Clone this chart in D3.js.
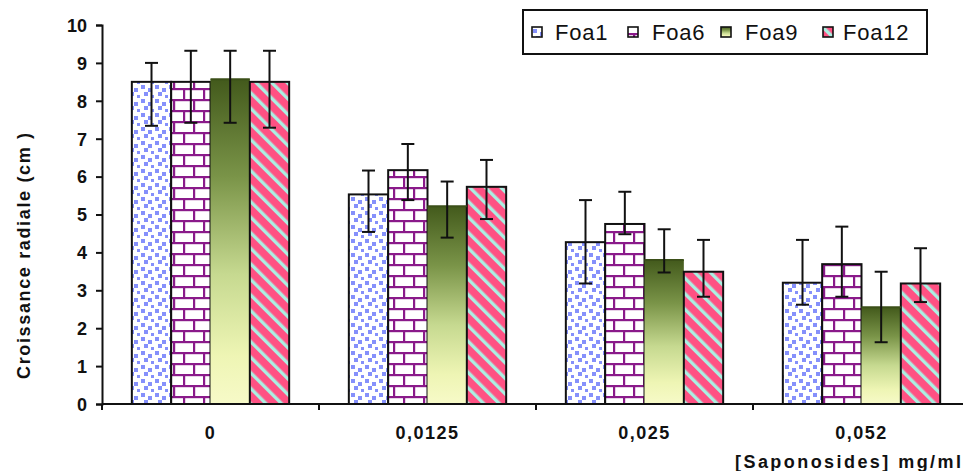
<!DOCTYPE html>
<html>
<head>
<meta charset="utf-8">
<script src="https://cdn.jsdelivr.net/npm/d3@7"></script>
<style>
  html, body { margin: 0; padding: 0; background: #fff; }
  svg { display: block; }
  .num { font-family: "Liberation Sans Narrow", "Arial Narrow", "Liberation Sans", Arial, sans-serif; font-weight: bold; fill: #111; }
</style>
</head>
<body>
<svg id="chart" width="965" height="471"></svg>
<script>
// Radial growth (cm) of four Foa isolates under increasing saponoside doses
const categories = ["0", "0,0125", "0,025", "0,052"];
const seriesNames = ["Foa1", "Foa6", "Foa9", "Foa12"];
const foa1  = [8.5, 5.53, 4.27, 3.2];
const foa6  = [8.5, 6.17, 4.75, 3.69];
const foa9  = [8.57, 5.22, 3.8, 2.55];
const foa12 = [8.5, 5.73, 3.49, 3.18];
// error bar ends (low / high)
const foa1Low  = [7.34, 4.54, 3.18, 2.62];
const foa1High = [9.0, 6.16, 5.38, 4.33];
const foa6Low  = [7.42, 5.38, 4.48, 2.83];
const foa6High = [9.32, 6.86, 5.6, 4.68];
const foa9Low  = [7.42, 4.39, 3.47, 1.63];
const foa9High = [9.32, 5.87, 4.61, 3.49];
const foa12Low  = [7.29, 4.88, 2.83, 2.69];
const foa12High = [9.32, 6.44, 4.33, 4.11];
const yTicks = [0, 1, 2, 3, 4, 5, 6, 7, 8, 9, 10];

const series = [
  { name: "Foa1",  values: foa1,  low: foa1Low,  high: foa1High,  fill: "url(#pFoa1)",  stroke: "#111" },
  { name: "Foa6",  values: foa6,  low: foa6Low,  high: foa6High,  fill: "url(#pFoa6)",  stroke: "#111" },
  { name: "Foa9",  values: foa9,  low: foa9Low,  high: foa9High,  fill: "url(#gFoa9)",  stroke: "none" },
  { name: "Foa12", values: foa12, low: foa12Low, high: foa12High, fill: "url(#pFoa12)", stroke: "#111" }
];

const svg = d3.select("#chart");
const defs = svg.append("defs");

// dotted fill
const p1 = defs.append("pattern").attr("id", "pFoa1").attr("patternUnits", "userSpaceOnUse")
  .attr("width", 14).attr("height", 14);
p1.append("rect").attr("width", 14).attr("height", 14).attr("fill", "#fff");
[[1, 1], [8, 4], [4, 8], [11, 11]].forEach(([x, y]) =>
  p1.append("rect").attr("x", x).attr("y", y).attr("width", 4).attr("height", 4).attr("fill", "#8590fb"));

// brick fill
const p6 = defs.append("pattern").attr("id", "pFoa6").attr("patternUnits", "userSpaceOnUse")
  .attr("width", 20).attr("height", 22);
p6.append("rect").attr("width", 20).attr("height", 22).attr("fill", "#fff");
const brick = "#8a1a8a";
p6.append("rect").attr("x", 0).attr("y", 0).attr("width", 20).attr("height", 2.2).attr("fill", brick);
p6.append("rect").attr("x", 0).attr("y", 11).attr("width", 20).attr("height", 2.2).attr("fill", brick);
p6.append("rect").attr("x", 3).attr("y", 0).attr("width", 2.2).attr("height", 11).attr("fill", brick);
p6.append("rect").attr("x", 13).attr("y", 11).attr("width", 2.2).attr("height", 11).attr("fill", brick);

// diagonal stripes
const p12 = defs.append("pattern").attr("id", "pFoa12").attr("patternUnits", "userSpaceOnUse")
  .attr("width", 11).attr("height", 11).attr("patternTransform", "rotate(-45)");
p12.append("rect").attr("width", 11).attr("height", 11).attr("fill", "#ff5183");
p12.append("rect").attr("x", 0).attr("width", 3.4).attr("height", 11).attr("fill", "#aaf0e2");

// vertical gradient
const g9 = defs.append("linearGradient").attr("id", "gFoa9").attr("x1", 0).attr("y1", 0).attr("x2", 0).attr("y2", 1);
[[0, "#435a1c"], [0.3, "#7a9448"], [0.6, "#c6d990"], [0.85, "#eef5b4"], [1, "#f7fac8"]].forEach(([o, c]) =>
  g9.append("stop").attr("offset", o).attr("stop-color", c));

const x0 = d3.scaleBand().domain(categories).range([102, 970]).paddingInner(0.275).paddingOuter(0.1375);
const x1 = d3.scaleBand().domain(seriesNames).range([0, x0.bandwidth()]);
const y = d3.scaleLinear().domain([0, 10]).range([404, 25]);

// bars
const groups = svg.append("g").selectAll("g").data(series).join("g");
groups.selectAll("rect")
  .data(s => s.values.map((v, i) => ({ s, v, c: categories[i] })))
  .join("rect")
  .attr("x", d => x0(d.c) + x1(d.s.name))
  .attr("y", d => y(d.v))
  .attr("width", x1.bandwidth())
  .attr("height", d => y(0) - y(d.v))
  .attr("fill", d => d.s.fill)
  .attr("stroke", d => d.s.stroke)
  .attr("stroke-width", 2);

// Foa9 top edge
svg.append("g").selectAll("line")
  .data(foa9.map((v, i) => ({ v, c: categories[i] })))
  .join("line")
  .attr("x1", d => x0(d.c) + x1("Foa9"))
  .attr("x2", d => x0(d.c) + x1("Foa9") + x1.bandwidth())
  .attr("y1", d => y(d.v)).attr("y2", d => y(d.v))
  .attr("stroke", "#3b4f18").attr("stroke-width", 2);

// error bars
const errs = [];
series.forEach(s => s.values.forEach((v, i) => errs.push({
  cx: x0(categories[i]) + x1(s.name) + x1.bandwidth() / 2, lo: s.low[i], hi: s.high[i]
})));
const eg = svg.append("g").attr("stroke", "#111").attr("stroke-width", 2);
eg.selectAll(".stem").data(errs).join("line")
  .attr("x1", d => d.cx).attr("x2", d => d.cx)
  .attr("y1", d => y(d.lo)).attr("y2", d => y(d.hi));
eg.selectAll(".capHi").data(errs).join("line")
  .attr("x1", d => d.cx - 6.5).attr("x2", d => d.cx + 6.5)
  .attr("y1", d => y(d.hi)).attr("y2", d => y(d.hi));
eg.selectAll(".capLo").data(errs).join("line")
  .attr("x1", d => d.cx - 6.5).attr("x2", d => d.cx + 6.5)
  .attr("y1", d => y(d.lo)).attr("y2", d => y(d.lo));

// y axis
const yAxis = svg.append("g").attr("transform", "translate(102,0)")
  .call(d3.axisLeft(y).tickValues(yTicks).tickSize(6).tickPadding(9).tickFormat(d3.format("d")));
yAxis.select(".domain").attr("stroke", "#111").attr("stroke-width", 2);
yAxis.selectAll(".tick line").attr("stroke", "#111").attr("stroke-width", 2);
yAxis.selectAll(".tick text").attr("class", "num").attr("font-size", 18).attr("dy", "0.35em");

// x axis with ticks at category boundaries
const xa = svg.append("g");
xa.append("line").attr("x1", 102).attr("x2", 963).attr("y1", y(0)).attr("y2", y(0))
  .attr("stroke", "#111").attr("stroke-width", 2);
const step = x0.step();
const bounds = categories.map((c, i) => x0(c) - x0.paddingInner() * step / 2 - (i === 0 ? (x0.paddingOuter() * step - x0.paddingInner() * step / 2) : 0));
xa.selectAll(".xt").data(bounds).join("line")
  .attr("x1", d => d).attr("x2", d => d)
  .attr("y1", y(0)).attr("y2", y(0) + 6)
  .attr("stroke", "#111").attr("stroke-width", 2);
xa.selectAll(".xl").data(categories).join("text")
  .attr("class", "num").attr("font-size", 18)
  .attr("x", d => x0(d) + x0.bandwidth() / 2)
  .attr("y", 439)
  .attr("text-anchor", "middle")
  .attr("letter-spacing", 1.5)
  .text(d => d);

// axis titles
svg.append("text").attr("class", "num").attr("font-size", 18)
  .attr("x", 961).attr("y", 468).attr("text-anchor", "end")
  .attr("textLength", 226).attr("lengthAdjust", "spacing")
  .text("[Saponosides] mg/ml");
svg.append("text").attr("class", "num").attr("font-size", 18)
  .attr("transform", "translate(30,256) rotate(-90)")
  .attr("text-anchor", "middle")
  .attr("textLength", 246).attr("lengthAdjust", "spacing")
  .text("Croissance radiale (cm )");

// legend
const lg = svg.append("g");
lg.append("rect").attr("x", 523).attr("y", 10).attr("width", 404).attr("height", 44)
  .attr("fill", "#fff").attr("stroke", "#111").attr("stroke-width", 2);
const legendX = [532, 628, 721, 823];
const legendTextX = [555, 652, 745, 843];
series.forEach((s, i) => {
  lg.append("rect").attr("x", legendX[i]).attr("y", 27).attr("width", 10).attr("height", 10)
    .attr("fill", s.fill).attr("stroke", "#111").attr("stroke-width", 1.6);
  lg.append("text").attr("x", legendTextX[i]).attr("y", 40)
    .attr("font-family", "'Liberation Sans', Arial, sans-serif").attr("font-size", 22)
    .attr("letter-spacing", 0.8).attr("fill", "#111")
    .text(s.name);
});
</script>
</body>
</html>
